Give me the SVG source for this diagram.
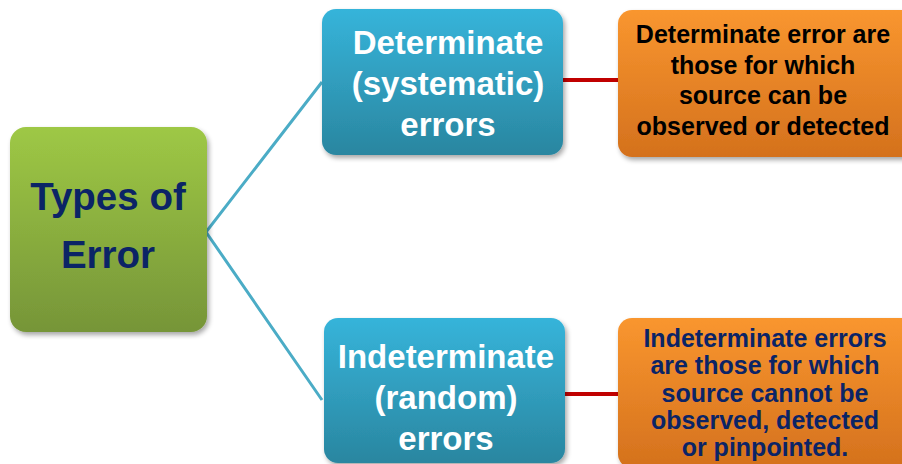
<svg xmlns="http://www.w3.org/2000/svg" width="902" height="464" viewBox="0 0 902 464">
  <defs>
    <linearGradient id="gGreen" x1="0" y1="0" x2="0" y2="1">
      <stop offset="0" stop-color="#9EC845"/>
      <stop offset="1" stop-color="#769538"/>
    </linearGradient>
    <linearGradient id="gBlue" x1="0" y1="0" x2="0" y2="1">
      <stop offset="0" stop-color="#36B4DA"/>
      <stop offset="1" stop-color="#2A86A0"/>
    </linearGradient>
    <linearGradient id="gOrange" x1="0" y1="0" x2="0" y2="1">
      <stop offset="0" stop-color="#F9962F"/>
      <stop offset="1" stop-color="#D4711D"/>
    </linearGradient>
    <filter id="shadow" x="-10%" y="-10%" width="125%" height="130%">
      <feGaussianBlur in="SourceAlpha" stdDeviation="2.5"/>
      <feOffset dx="2" dy="3" result="b"/>
      <feComponentTransfer><feFuncA type="linear" slope="0.35"/></feComponentTransfer>
      <feMerge><feMergeNode/><feMergeNode in="SourceGraphic"/></feMerge>
    </filter>
  </defs>
  <style>
    text { font-family: "Liberation Sans", Arial, sans-serif; font-weight: bold; text-anchor: middle; }
    .root { font-size: 38.5px; fill: #0B2466; }
    .cat { font-size: 33px; fill: #FFFFFF; }
    .desc { font-size: 25px; }
    .dark { fill: #000000; }
    .navy { fill: #0B2466; }
    .branch { stroke: #4BACC6; stroke-width: 3; fill: none; }
    .link { stroke: #C00000; stroke-width: 4; fill: none; }
  </style>

  <!-- connectors -->
  <g id="connectors">
    <polyline class="branch" points="322,82 206,232 322,400"/>
    <line class="link" x1="562" y1="80" x2="620" y2="80"/>
    <line class="link" x1="564" y1="394" x2="620" y2="394"/>
  </g>

  <g id="types-of-error">
    <rect x="10" y="127" width="197" height="205" rx="16" fill="url(#gGreen)" filter="url(#shadow)"/>
    <text class="root" x="108" y="210">Types of</text>
    <text class="root" x="108" y="268">Error</text>
  </g>

  <g id="determinate">
    <rect x="322" y="9" width="241" height="146" rx="14" fill="url(#gBlue)" filter="url(#shadow)"/>
    <text class="cat" x="448" y="54">Determinate</text>
    <text class="cat" x="448" y="95">(systematic)</text>
    <text class="cat" x="448" y="136">errors</text>
  </g>

  <g id="indeterminate">
    <rect x="324" y="318" width="241" height="145" rx="14" fill="url(#gBlue)" filter="url(#shadow)"/>
    <text class="cat" x="446" y="368">Indeterminate</text>
    <text class="cat" x="446" y="409">(random)</text>
    <text class="cat" x="446" y="450">errors</text>
  </g>

  <g id="determinate-desc">
    <rect x="618" y="10" width="300" height="147" rx="14" fill="url(#gOrange)" filter="url(#shadow)"/>
    <text class="desc dark" x="763" y="43">Determinate error are</text>
    <text class="desc dark" x="763" y="74">those for which</text>
    <text class="desc dark" x="763" y="104">source can be</text>
    <text class="desc dark" x="763" y="135">observed or detected</text>
  </g>

  <g id="indeterminate-desc">
    <rect x="618" y="318" width="300" height="150" rx="14" fill="url(#gOrange)" filter="url(#shadow)"/>
    <text class="desc navy" x="765" y="347">Indeterminate errors</text>
    <text class="desc navy" x="765" y="374">are those for which</text>
    <text class="desc navy" x="765" y="402">source cannot be</text>
    <text class="desc navy" x="765" y="429">observed, detected</text>
    <text class="desc navy" x="765" y="456">or pinpointed.</text>
  </g>
</svg>
